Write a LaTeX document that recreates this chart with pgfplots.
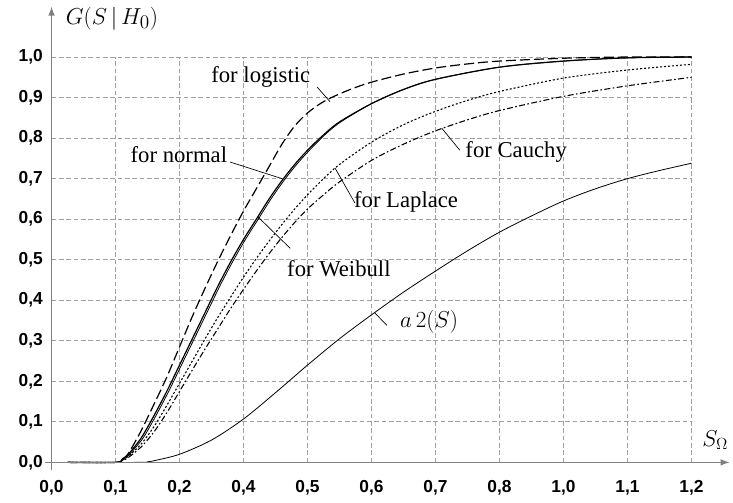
\documentclass[border=0pt]{standalone}
\usepackage{pgfplots}
\pgfplotsset{compat=1.18}
\usepackage{fontspec}
\setmainfont{Liberation Serif}
\newfontfamily\tickfont{Liberation Sans}
\usetikzlibrary{arrows.meta}

\begin{document}
\begin{tikzpicture}
\begin{axis}[
    name=ax,
    scale only axis,
    width=479.6pt, height=303.75pt,
    xmin=0, xmax=10, ymin=0, ymax=1,
    clip=false,
    axis line style={draw=none},
    grid=major,
    major grid style={gray!75, line width=0.6pt, dash pattern=on 3.5pt off 2pt},
    major tick length=0pt,
    xtick={0,1,2,3,4,5,6,7,8,9,10},
    xticklabels={{0,0},{0,1},{0,2},{0,4},{0,5},{0,6},{0,7},{0,8},{1,0},{1,1},{1,2}},
    ytick={0,0.1,0.2,0.3,0.4,0.5,0.6,0.7,0.8,0.9,1},
    yticklabels={{0,0},{0,1},{0,2},{0,3},{0,4},{0,5},{0,6},{0,7},{0,8},{0,9},{1,0}},
    tick label style={font=\tickfont\bfseries\fontsize{13}{13}\selectfont},
    xticklabel style={yshift=-10pt},
    yticklabel style={xshift=-3pt},
]
% logistic
\addplot[black, line width=0.9pt, dash pattern=on 7.5pt off 3pt, smooth] coordinates {
(0.25,0) (1.0,0) (1.1,0.008) (1.2,0.022) (1.4,0.078) (1.6,0.143) (1.8,0.21) (2.0,0.285)
(2.2,0.36) (2.4,0.43) (2.6,0.497) (2.8,0.56) (3.0,0.62) (3.2,0.675) (3.4,0.73) (3.6,0.785)
(3.8,0.83) (4.0,0.862) (4.2,0.885) (4.4,0.902) (4.7,0.922) (5.0,0.938) (5.5,0.958)
(6,0.973) (6.5,0.983) (7,0.99) (8,0.997) (9,1.0) (10,1.0)
};
% normal
\addplot[black, line width=0.9pt, smooth] coordinates {
(0.25,0) (1.0,0) (1.1,0.007) (1.2,0.02) (1.4,0.06) (1.6,0.115) (1.8,0.175) (2.0,0.24)
(2.2,0.305) (2.4,0.37) (2.6,0.435) (2.8,0.495) (3.0,0.55) (3.2,0.6) (3.4,0.65) (3.6,0.695)
(3.8,0.735) (4.0,0.77) (4.25,0.808) (4.5,0.84) (5,0.885) (5.5,0.92) (6,0.945) (7,0.975)
(8,0.99) (9,0.998) (10,1.0)
};
% Weibull
\addplot[black, line width=0.6pt, smooth] coordinates {
(0.25,0) (1.0,0) (1.12,0.007) (1.22,0.02) (1.43,0.06) (1.63,0.115) (1.83,0.175) (2.03,0.24)
(2.23,0.305) (2.43,0.37) (2.63,0.435) (2.83,0.495) (3.03,0.55) (3.23,0.6) (3.43,0.65)
(3.63,0.695) (3.83,0.735) (4.03,0.77) (4.27,0.808) (4.52,0.84) (5,0.885) (5.5,0.92)
(6,0.945) (7,0.975) (8,0.99) (9,0.998) (10,1.0)
};
% Laplace
\addplot[black, line width=0.8pt, dash pattern=on 1.5pt off 1.5pt, smooth] coordinates {
(0.25,0) (1.0,0) (1.1,0.005) (1.2,0.015) (1.4,0.045) (1.6,0.088) (1.8,0.14) (2.0,0.195)
(2.2,0.25) (2.4,0.305) (2.6,0.358) (2.8,0.408) (3.0,0.457) (3.2,0.503) (3.4,0.546)
(3.6,0.587) (3.8,0.625) (4.0,0.66) (4.25,0.7) (4.5,0.735) (5,0.79) (5.5,0.833) (6,0.866)
(6.5,0.893) (7,0.915) (8,0.948) (9,0.968) (10,0.982)
};
% Cauchy
\addplot[black, line width=0.8pt, dash pattern=on 4.5pt off 1.8pt on 1.2pt off 1.8pt, smooth] coordinates {
(0.25,0) (1.0,0) (1.1,0.004) (1.2,0.012) (1.4,0.038) (1.6,0.075) (1.8,0.122) (2.0,0.175)
(2.2,0.228) (2.4,0.28) (2.6,0.33) (2.8,0.38) (3.0,0.427) (3.2,0.472) (3.4,0.515)
(3.6,0.555) (3.8,0.592) (4.0,0.625) (4.25,0.66) (4.5,0.692) (5,0.745) (5.5,0.785)
(6,0.818) (6.5,0.845) (7,0.868) (8,0.903) (9,0.929) (10,0.95)
};
% a2(S)
\addplot[black, line width=0.6pt, smooth] coordinates {
(0.25,0) (1.4,0) (1.5,0.0015) (1.6,0.004) (2,0.02) (2.5,0.055) (3,0.107) (3.5,0.172)
(4,0.24) (4.5,0.305) (5,0.364) (5.5,0.42) (6,0.472) (6.5,0.522) (7,0.568) (7.5,0.608)
(8,0.645) (8.5,0.675) (9,0.7) (9.5,0.72) (10,0.738)
};

% axes with arrows
\draw[gray, line width=1.1pt, -{Latex[length=7pt,width=5pt]}] (axis cs:-0.1,0) -- (axis cs:10.6,0);
\draw[gray, line width=1.1pt, -{Latex[length=7pt,width=5pt]}] (axis cs:0,-0.02) -- (axis cs:0,1.125);

% axis names
\node[anchor=west, font=\fontsize{19}{19}\selectfont] at (axis cs:0.15,1.095) {$G(S\,\big|\,H_0)$};
\node[font=\fontsize{17}{17}\selectfont] at (axis cs:10.37,0.055) {$S_\Omega$};

% curve labels and leaders
\begin{scope}[font=\fontsize{17}{17}\selectfont]
\node at (axis cs:3.27,0.951) {for logistic};
\draw[line width=0.5pt] (axis cs:4.15,0.926) -- (axis cs:4.35,0.89);
\node at (axis cs:1.99,0.758) {for normal};
\draw[line width=0.5pt] (axis cs:2.79,0.741) -- (axis cs:3.60,0.70);
\node at (axis cs:4.49,0.479) {for Weibull};
\draw[line width=0.5pt] (axis cs:3.73,0.528) -- (axis cs:3.23,0.605);
\node at (axis cs:5.54,0.642) {for Laplace};
\draw[line width=0.5pt] (axis cs:4.74,0.64) -- (axis cs:4.43,0.726);
\node at (axis cs:7.26,0.765) {for Cauchy};
\draw[line width=0.5pt] (axis cs:6.38,0.770) -- (axis cs:6.10,0.824);
\end{scope}
\node[font=\fontsize{18}{18}\selectfont] at (axis cs:5.9,0.346) {$a\,2(S)$};
\draw[line width=0.5pt] (axis cs:5.24,0.338) -- (axis cs:5.05,0.369);

\coordinate (bbsw) at (axis cs:-0.805,-0.0988);
\coordinate (bbne) at (axis cs:10.648,1.1407);
\end{axis}
\pgfresetboundingbox
\path (bbsw) rectangle (bbne);
\end{tikzpicture}
\end{document}
